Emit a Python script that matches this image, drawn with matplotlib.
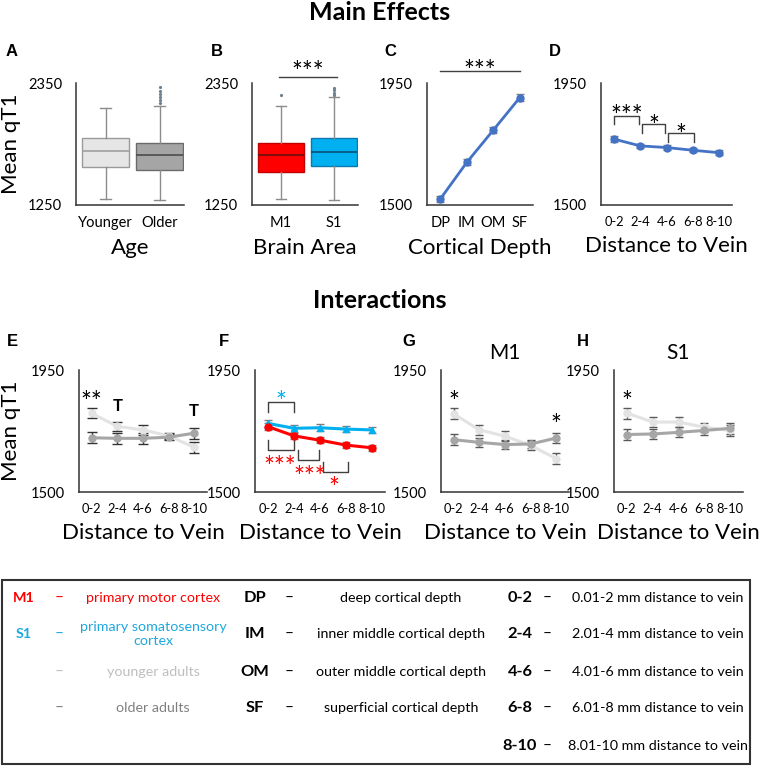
import matplotlib.pyplot as plt
from matplotlib.patches import Rectangle

plt.rcParams['font.family'] = ['Lato', 'DejaVu Sans']

W, H = 760, 777

# ---- data ----
age_labels = ['Younger', 'Older']
younger_box = [1301, 1589, 1739, 1857, 2127]   # whislo, q1, med, q3, whishi
older_box = [1292, 1568, 1701, 1806, 2145]
older_outliers = [2170, 2198, 2226, 2254, 2282, 2314]

area_labels = ['M1', 'S1']
m1_box = [1301, 1550, 1698, 1806, 2143]
s1_box = [1292, 1599, 1730, 1851, 2227]
m1_outliers = [2242]
s1_outliers = [2240, 2262, 2285, 2308]

depth_labels = ['DP', 'IM', 'OM', 'SF']
depth_mean = [1522, 1657, 1776, 1896]
depth_err = [12, 11, 11, 12]

dist_labels = ['0-2', '2-4', '4-6', '6-8', '8-10']
dist_mean = [1743, 1718, 1712, 1702, 1693]
dist_err = [10, 8, 8, 8, 9]

e_young = [1790, 1742, 1729, 1707, 1665]
e_old = [1700, 1698, 1698, 1702, 1717]
e_young_err = [18, 18, 18, 12, 20]
e_old_err = [20, 20, 20, 12, 20]

f_s1 = [1753, 1735, 1737, 1732, 1729]
f_m1 = [1741, 1707, 1691, 1673, 1663]
f_err = [12, 12, 12, 10, 12]

g_young = [1788, 1729, 1706, 1672, 1623]
g_old = [1693, 1683, 1675, 1677, 1699]
h_young = [1791, 1758, 1758, 1739, 1727]
h_old = [1712, 1714, 1720, 1727, 1735]
gh_err = [20, 18, 18, 16, 20]

red = '#ff0000'
blue = '#00b0f0'
line_blue = '#4472c4'
young_col = '#e3e3e3'
old_col = '#a6a6a6'


def px(l, t, r, b):
    return [l / W, 1 - b / H, (r - l) / W, (b - t) / H]


def fx(x):
    return x / W


def fy(y):
    return 1 - y / H


def style(ax, lo, hi, labels, xlim, xsize=10.5):
    for s in ['top', 'right']:
        ax.spines[s].set_visible(False)
    for s in ['left', 'bottom']:
        ax.spines[s].set_color('#333333')
        ax.spines[s].set_linewidth(1.1)
    ax.set_ylim(lo, hi)
    ax.set_yticks([lo, hi])
    ax.set_yticklabels([str(lo), str(hi)])
    ax.set_xticks(range(len(labels)) if xlim[0] < 0 else range(1, len(labels) + 1))
    ax.set_xticklabels(labels)
    ax.set_xlim(*xlim)
    ax.tick_params(length=0, labelsize=10.5, colors='black')
    ax.tick_params(axis='y', pad=10)
    ax.tick_params(axis='x', pad=8, labelsize=xsize)


def star(ax, x, y, s, color='black'):
    ax.annotate(s, (x, y), xytext=(0, -7), textcoords='offset points', ha='center', va='center',
                fontsize=18.5, color=color, annotation_clip=False)


def bracket(ax, x0, x1, top, bottom, color='#404040'):
    ax.plot([x0, x0, x1, x1], [bottom, top, top, bottom], color=color, lw=1, clip_on=False)


def bstats(vals, fliers):
    return dict(whislo=vals[0], q1=vals[1], med=vals[2], q3=vals[3], whishi=vals[4], fliers=fliers)


fig = plt.figure(figsize=(W / 100, H / 100), dpi=100)

axA = fig.add_axes(px(76, 83, 184, 205))
axB = fig.add_axes(px(252, 83, 358, 205))
axC = fig.add_axes(px(427, 83, 533, 205))
axD = fig.add_axes(px(601, 83, 732, 205))
axE = fig.add_axes(px(79, 370, 207, 492))
axF = fig.add_axes(px(255, 370, 385, 492))
axG = fig.add_axes(px(441, 370, 569, 492))
axH = fig.add_axes(px(614, 370, 743, 492))

# ---- A / B boxplots ----
box_sets = [
    (axA, [bstats(younger_box, []), bstats(older_box, older_outliers)], age_labels,
     [('#e6e6e6', '#9a9a9a', '#a0a0a0'), ('#a5a5a5', '#6b6b6b', '#4d4d4d')]),
    (axB, [bstats(m1_box, m1_outliers), bstats(s1_box, s1_outliers)], area_labels,
     [(red, '#c00000', '#6a1010'), (blue, '#0a7ab0', '#0b4f78')]),
]
for ax, stats, labels, cols in box_sets:
    bp = ax.bxp(stats, positions=[1, 2], widths=0.88, patch_artist=True, capwidths=0.2,
                whiskerprops=dict(color='#8c8c8c', lw=1),
                capprops=dict(color='#8c8c8c', lw=1),
                flierprops=dict(marker='o', markersize=1.3, markerfacecolor='#6f8090',
                                markeredgecolor='#6f8090'))
    for box, med, (face, edge, mc) in zip(bp['boxes'], bp['medians'], cols):
        box.set_facecolor(face)
        box.set_edgecolor(edge)
        box.set_linewidth(1)
        med.set_color(mc)
        med.set_linewidth(1.2)
    style(ax, 1250, 2350, labels, (0.45, 2.45))

axB.plot([0.95, 2.05], [2404, 2404], color='#404040', lw=1, clip_on=False)
star(axB, 1.5, 2521, '***')

# ---- C ----
xs4 = list(range(len(depth_labels)))
axC.errorbar(xs4, depth_mean, yerr=depth_err, color=line_blue, lw=2, marker='o', ms=5,
             ecolor='#7f7f7f', elinewidth=1.2, capsize=3)
style(axC, 1500, 1950, depth_labels, (-0.5, 3.5))
axC.plot([0, 3], [1994, 1994], color='#404040', lw=1, clip_on=False)
star(axC, 1.5, 2024, '***')

# ---- D ----
xs5 = list(range(len(dist_labels)))
axD.errorbar(xs5, dist_mean, yerr=dist_err, color=line_blue, lw=2, marker='o', ms=5,
             ecolor='#7f7f7f', elinewidth=1.2, capsize=3)
style(axD, 1500, 1950, dist_labels, (-0.5, 4.5), 9.3)

d_brackets = [(0, 0.95, 1829, 1798, '***', 1857), (1.05, 1.95, 1797, 1766, '*', 1820),
              (2.05, 3.05, 1764, 1733, '*', 1787)]
for x0, x1, top, bot, s, sy in d_brackets:
    bracket(axD, x0, x1, top, bot)
    star(axD, (x0 + x1) / 2, sy, s)

# ---- E ----
axE.errorbar(xs5, e_young, yerr=e_young_err, color=young_col, lw=2.2, marker='o', ms=5,
             ecolor='#333333', elinewidth=1, capsize=3.5)
axE.errorbar(xs5, e_old, yerr=e_old_err, color=old_col, lw=2.2, marker='o', ms=5,
             ecolor='#333333', elinewidth=1, capsize=3.5)
style(axE, 1500, 1950, dist_labels, (-0.5, 4.5), 9.3)
star(axE, 0, 1864, '**')
axE.text(1, 1817, 'T', ha='center', va='center', fontsize=12, fontweight='bold')
axE.text(4, 1800, 'T', ha='center', va='center', fontsize=12, fontweight='bold')

# ---- F ----
axF.errorbar(xs5, f_s1, yerr=f_err, color=blue, lw=2.2, marker='^', ms=4.5,
             ecolor='#7f7f7f', elinewidth=1, capsize=3)
axF.errorbar(xs5, f_m1, yerr=f_err, color=red, lw=2.2, marker='o', ms=5,
             ecolor='#7f7f7f', elinewidth=1, capsize=3)
style(axF, 1500, 1950, dist_labels, (-0.5, 4.5), 9.3)
bracket(axF, 0, 1, 1833, 1796)
star(axF, 0.5, 1862, '*', blue)
f_brackets = [(0, 1, 1655, 1692, '***', 1621, 0.47), (1.14, 1.96, 1617, 1655, '***', 1585, 1.6),
              (2.13, 3.09, 1575, 1612, '*', 1546, 2.55)]
for x0, x1, bot, top, s, sy, sx in f_brackets:
    bracket(axF, x0, x1, bot, top)
    star(axF, sx, sy, s, red)

# ---- G / H ----
for ax, yv, ov, title in [(axG, g_young, g_old, 'M1'), (axH, h_young, h_old, 'S1')]:
    ax.errorbar(xs5, yv, yerr=gh_err, color=young_col, lw=2.2, marker='o', ms=5,
                ecolor='#595959', elinewidth=1, capsize=3)
    ax.errorbar(xs5, ov, yerr=gh_err, color=old_col, lw=2.2, marker='o', ms=5,
                ecolor='#595959', elinewidth=1, capsize=3)
    style(ax, 1500, 1950, dist_labels, (-0.5, 4.5), 9.3)
    ax.set_title(title, fontsize=15, pad=8)
star(axG, 0, 1862, '*')
star(axG, 4, 1776, '*')
star(axH, 0, 1864, '*')

# ---- axis labels ----
xlab = [(axA, 'Age'), (axB, 'Brain Area'), (axC, 'Cortical Depth'), (axD, 'Distance to Vein'),
        (axE, 'Distance to Vein'), (axF, 'Distance to Vein'), (axG, 'Distance to Vein'),
        (axH, 'Distance to Vein')]
for ax, t in xlab:
    ax.set_xlabel(t, fontsize=16, labelpad=6)

fig.text(fx(11), fy(144), 'Mean qT1', rotation=90, ha='center', va='center', fontsize=16)
fig.text(fx(11), fy(431), 'Mean qT1', rotation=90, ha='center', va='center', fontsize=16)

fig.text(0.5, fy(13), 'Main Effects', ha='center', va='center', fontsize=18, fontweight='bold')
fig.text(0.5, fy(300), 'Interactions', ha='center', va='center', fontsize=18, fontweight='bold')

letters = [('A', 12, 52), ('B', 217, 52), ('C', 390, 52), ('D', 555, 52),
           ('E', 12, 341), ('F', 224, 341), ('G', 409, 341), ('H', 583, 341)]
for t, x, y in letters:
    fig.text(fx(x), fy(y), t, ha='center', va='center', fontsize=12, fontweight='bold',
             family='Liberation Sans')

# ---- key box ----
fig.patches.append(Rectangle((fx(2), fy(764)), fx(750 - 2), (764 - 580) / H, transform=fig.transFigure,
                             fill=False, edgecolor='#333333', lw=1.5))

area_names = ['primary motor cortex', 'primary somatosensory\ncortex']
area_colors = [red, '#1fa8e0']
age_names = ['younger adults', 'older adults']
age_colors = ['#bfbfbf', '#808080']
depth_names = ['deep cortical depth', 'inner middle cortical depth',
               'outer middle cortical depth', 'superficial cortical depth']
dist_names = ['0.01-2 mm distance to vein', '2.01-4 mm distance to vein',
              '4.01-6 mm distance to vein', '6.01-8 mm distance to vein',
              '8.01-10 mm distance to vein']
row_y = [598, 634, 672, 708, 746]
fs = 10.3

for i, (code, name, c) in enumerate(zip(area_labels, area_names, area_colors)):
    fig.text(fx(24), fy(row_y[i]), code, ha='center', va='center', fontsize=fs, fontweight='bold', color=c)
    fig.text(fx(59), fy(row_y[i]), '–', ha='center', va='center', fontsize=fs + 1, color=c)
    fig.text(fx(153), fy(row_y[i]), name, ha='center', va='center', fontsize=fs, color=c,
             linespacing=1.25)
for i, (name, c) in enumerate(zip(age_names, age_colors)):
    fig.text(fx(59), fy(row_y[i + 2]), '–', ha='center', va='center', fontsize=fs + 1, color=c)
    fig.text(fx(153), fy(row_y[i + 2]), name, ha='center', va='center', fontsize=fs, color=c)
for i, (code, name) in enumerate(zip(depth_labels, depth_names)):
    fig.text(fx(255), fy(row_y[i]), code, ha='center', va='center', fontsize=fs + 1.5, fontweight='bold')
    fig.text(fx(289), fy(row_y[i]), '–', ha='center', va='center', fontsize=fs + 1)
    fig.text(fx(401), fy(row_y[i]), name, ha='center', va='center', fontsize=fs)
for i, (code, name) in enumerate(zip(dist_labels, dist_names)):
    fig.text(fx(520), fy(row_y[i]), code, ha='center', va='center', fontsize=fs + 1.5, fontweight='bold')
    fig.text(fx(547), fy(row_y[i]), '–', ha='center', va='center', fontsize=fs + 1)
    fig.text(fx(658), fy(row_y[i]), name, ha='center', va='center', fontsize=fs)

fig.savefig('out.png', dpi=100)
